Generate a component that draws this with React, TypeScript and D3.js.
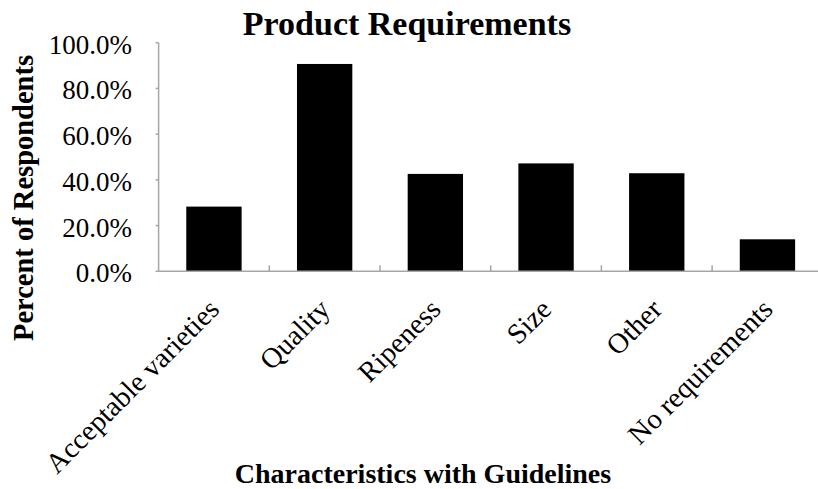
import React from "react";
import * as d3 from "d3";

const categories = ["Acceptable varieties", "Quality", "Ripeness", "Size", "Other", "No requirements"];
const values = [28.3, 90.7, 42.6, 47.2, 42.9, 14.0];
const yTicks = [0, 20, 40, 60, 80, 100];

const W = 818;
const H = 489;
const FONT = "'Liberation Serif', 'DejaVu Serif', serif";

export default function App() {
  const x0 = 158.6;
  const band = 110.7;
  const x = d3
    .scaleBand<string>()
    .domain(categories)
    .range([x0, x0 + band * categories.length])
    .paddingInner(0.5)
    .paddingOuter(0.25);
  const y = d3.scaleLinear().domain([0, 100]).range([271.3, 42.7]);
  const axisColor = "#a6a6a6";
  const boundaries = categories.map((_, i) => x0 + band * (i + 1));

  return (
    <svg
      width={W}
      height={H}
      style={{ position: "absolute", left: 0, top: 0, background: "#fff" }}
      fontFamily={FONT}
    >
      <rect width={W} height={H} fill="#fff" />
      <text x={407} y={35} textAnchor="middle" fontSize={34} fontWeight="bold" fill="#000">
        Product Requirements
      </text>
      {/* bars */}
      {categories.map((c, i) => (
        <rect
          key={c}
          x={x(c)!}
          y={y(values[i])}
          width={x.bandwidth()}
          height={y(0) - y(values[i])}
          fill="#000"
        />
      ))}
      {/* y axis */}
      <line x1={x0} x2={x0} y1={y(100)} y2={y(0)} stroke={axisColor} strokeWidth={1.5} />
      {yTicks.map((t) => (
        <g key={t}>
          <line x1={x0 - 3} x2={x0} y1={y(t)} y2={y(t)} stroke={axisColor} strokeWidth={1.5} />
          <text x={132} y={y(t) + 11} textAnchor="end" fontSize={27} fill="#000">
            {d3.format(".1f")(t) + "%"}
          </text>
        </g>
      ))}
      {/* x axis */}
      <line x1={x0} x2={W} y1={y(0)} y2={y(0)} stroke={axisColor} strokeWidth={1.5} />
      {boundaries.map((b, i) => (
        <line key={i} x1={b} x2={b} y1={y(0)} y2={y(0) - 6} stroke={axisColor} strokeWidth={1.5} />
      ))}
      {categories.map((c) => {
        const cx = x(c)! + x.bandwidth() / 2 + 7;
        const cy = 311;
        return (
          <text
            key={c}
            x={cx}
            y={cy}
            textAnchor="end"
            fontSize={28.5}
            fill="#000"
            transform={`rotate(-45 ${cx} ${cy})`}
          >
            {c}
          </text>
        );
      })}
      <text x={423} y={483} textAnchor="middle" fontSize={28} fontWeight="bold" fill="#000">
        Characteristics with Guidelines
      </text>
      <text
        x={33}
        y={198}
        textAnchor="middle"
        fontSize={28.5}
        fontWeight="bold"
        fill="#000"
        transform="rotate(-90 33 198)"
      >
        Percent of Respondents
      </text>
    </svg>
  );
}
